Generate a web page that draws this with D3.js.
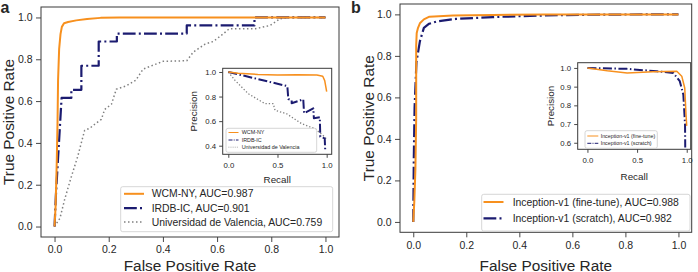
<!DOCTYPE html>
<html><head><meta charset="utf-8">
<script src="https://cdn.jsdelivr.net/npm/d3@7"></script>
<style>
body{margin:0;background:#fff}
svg{display:block}
text{font-family:"Liberation Sans",Arial,Helvetica,sans-serif;fill:#262626}
</style>
</head><body><svg id="c" width="698" height="272"></svg>
<script>
// ---------------- DATA ----------------
const mainTicks = [0.0, 0.2, 0.4, 0.6, 0.8, 1.0];
const insetXTicks = [0.0, 0.5, 1.0];
const insetYTicksA = [0.4, 0.6, 0.8, 1.0];
const insetYTicksB = [0.6, 0.7, 0.8, 0.9, 1.0];

// Panel a : ROC
const wcmFpr  = [0, 0.004, 0.008, 0.011, 0.013, 0.017, 0.022, 0.027, 0.035, 0.05, 0.08, 0.12, 0.17, 0.24, 1.0];
const wcmTpr  = [0, 0.10, 0.30, 0.50, 0.70, 0.85, 0.92, 0.955, 0.972, 0.978, 0.986, 0.993, 0.998, 1.0, 1.0];
const irdbFpr = [0, 0.005, 0.026, 0.062, 0.062, 0.099, 0.099, 0.163, 0.163, 0.230, 0.230, 0.488, 0.488, 0.738, 0.738, 1.0];
const irdbTpr = [0, 0.15, 0.615, 0.615, 0.654, 0.654, 0.769, 0.769, 0.885, 0.885, 0.923, 0.923, 0.962, 0.962, 1.0, 1.0];
const valFpr  = [0, 0.02, 0.037, 0.06, 0.086, 0.111, 0.13, 0.148, 0.173, 0.185, 0.21, 0.228, 0.265, 0.30, 0.327, 0.40, 0.488, 0.512, 0.556, 0.586, 0.623, 0.645, 0.741, 0.796, 0.833, 0.86, 1.0];
const valTpr  = [0, 0.04, 0.128, 0.23, 0.337, 0.46, 0.47, 0.489, 0.513, 0.56, 0.585, 0.657, 0.673, 0.70, 0.753, 0.79, 0.793, 0.834, 0.873, 0.885, 0.922, 0.946, 0.946, 0.962, 0.994, 1.0, 1.0];
// Panel a : precision-recall
const wcmRecall     = [0, 0.1, 0.3, 0.5, 0.7, 0.9, 0.96, 0.98, 1.0];
const wcmPrecision  = [1.0, 0.99, 0.98, 0.975, 0.978, 0.975, 0.965, 0.93, 0.84];
const irdbRecall    = [0, 0.60, 0.61, 0.644, 0.644, 0.762, 0.77, 0.864, 0.87, 0.93, 0.935, 0.98, 0.985, 1.0];
const irdbPrecision = [1.0, 0.885, 0.78, 0.77, 0.745, 0.778, 0.664, 0.704, 0.623, 0.631, 0.473, 0.46, 0.365, 0.36];
const valRecall     = [0, 0.068, 0.203, 0.373, 0.457, 0.475, 0.593, 0.746, 0.881, 0.983, 1.0];
const valPrecision  = [1.0, 0.932, 0.823, 0.742, 0.742, 0.688, 0.66, 0.579, 0.538, 0.47, 0.45];

// Panel b : ROC
const ftFpr = [0, 0.004, 0.008, 0.011, 0.011, 0.013, 0.018, 0.025, 0.04, 0.061, 0.15, 0.3, 0.5, 1.0];
const ftTpr = [0, 0.10, 0.25, 0.50, 0.85, 0.91, 0.935, 0.957, 0.976, 0.989, 0.994, 0.997, 1.0, 1.0];
const scFpr = [0, 0.002, 0.005, 0.012, 0.025, 0.04, 0.06, 0.09, 0.16, 0.3, 0.5, 0.7, 1.0];
const scTpr = [0, 0.30, 0.55, 0.77, 0.87, 0.935, 0.955, 0.966, 0.978, 0.987, 0.995, 0.999, 1.0];
// Panel b : precision-recall
const ftRecall     = [0, 0.2, 0.4, 0.66, 0.9, 0.95, 0.98, 0.993, 1.0];
const ftPrecision  = [1.0, 0.985, 0.973, 0.979, 0.982, 0.956, 0.893, 0.75, 0.69];
const scRecall     = [0, 0.4, 0.7, 0.865, 0.93, 0.966, 0.983, 0.985];
const scPrecision  = [1.0, 0.995, 0.982, 0.973, 0.929, 0.857, 0.696, 0.575];

const legendA = ["WCM-NY, AUC=0.987", "IRDB-IC, AUC=0.901", "Universidad de Valencia, AUC=0.759"];
const insetLegendA = ["WCM-NY", "IRDB-IC", "Universidad de Valencia"];
const legendB = ["Inception-v1 (fine-tune), AUC=0.988", "Inception-v1 (scratch), AUC=0.982"];
const insetLegendB = ["Inception-v1  (fine-tune)", "Inception-v1  (scratch)"];

// ---------------- STYLES ----------------
const ORANGE = "#F7901E", NAVY = "#1b1b70", GRAY = "#808080";
const styleSolid  = {color: ORANGE, width: 2,   dash: null};
const styleDashDot= {color: NAVY,   width: 2.2, dash: "12.8,3.2,2,3.2"};
const styleDot    = {color: GRAY,   width: 1.5, dash: "1.5,2.5"};
const styleSolidS  = {color: ORANGE, width: 1.5, dash: null};
const styleDashDotS= {color: NAVY,   width: 2,   dash: "9,2.5,1.5,2.5"};
const styleDotS    = {color: GRAY,   width: 1.3, dash: "1.3,2"};
const styleSolidL  = {color: ORANGE, width: 1,   dash: null};
const styleDashDotL= {color: NAVY,   width: 1,   dash: "4,1.2,1,1.2"};
const styleDotL    = {color: GRAY,   width: 0.8, dash: "0.8,1.3"};

const svg = d3.select("#c");
const fmt = d3.format(".1f");

function axesBox(box, xDom, yDom, xTicks, yTicks, o) {
  const g = svg.append("g");
  g.append("rect").attr("x", box.x0).attr("y", box.y0)
    .attr("width", box.x1 - box.x0).attr("height", box.y1 - box.y0)
    .attr("fill", "#fff");
  const x = d3.scaleLinear().domain(xDom).range([box.x0, box.x1]);
  const y = d3.scaleLinear().domain(yDom).range([box.y1, box.y0]);
  const gx = g.append("g").attr("transform", `translate(0,${box.y1})`)
    .call(d3.axisBottom(x).tickValues(xTicks).tickFormat(fmt).tickSize(o.tick).tickPadding(o.padX).tickSizeOuter(0));
  const gy = g.append("g").attr("transform", `translate(${box.x0},0)`)
    .call(d3.axisLeft(y).tickValues(yTicks).tickFormat(fmt).tickSize(o.tick).tickPadding(o.padY).tickSizeOuter(0));
  [gx, gy].forEach(a => {
    a.select(".domain").remove();
    a.selectAll("line").attr("stroke", "#333").attr("stroke-width", 0.9);
    a.selectAll("text").attr("font-size", o.font).attr("fill", "#2a2a2a")
      .attr("font-family", "Liberation Sans, Arial, sans-serif");
  });
  const plot = g.append("g");
  g.append("rect").attr("x", box.x0).attr("y", box.y0)
    .attr("width", box.x1 - box.x0).attr("height", box.y1 - box.y0)
    .attr("fill", "none").attr("stroke", "#3a3a3a").attr("stroke-width", 1);
  return {g, plot, x, y};
}

function drawLine(ax, xs, ys, st) {
  const line = d3.line().x(d => ax.x(d[0])).y(d => ax.y(d[1]));
  ax.plot.append("path").datum(d3.zip(xs, ys))
    .attr("d", line).attr("fill", "none")
    .attr("stroke", st.color).attr("stroke-width", st.width)
    .attr("stroke-linejoin", "round")
    .attr("stroke-dasharray", st.dash);
}

function legend(g, box, labels, styles, rows, hx0, hx1, tx, font) {
  g.append("rect").attr("x", box.x0).attr("y", box.y0)
    .attr("width", box.x1 - box.x0).attr("height", box.y1 - box.y0)
    .attr("rx", 2).attr("fill", "#fff").attr("fill-opacity", 0.85)
    .attr("stroke", "#cccccc").attr("stroke-width", 0.8);
  labels.forEach((lab, i) => {
    const st = styles[i];
    g.append("line").attr("x1", hx0).attr("x2", hx1).attr("y1", rows[i]).attr("y2", rows[i])
      .attr("stroke", st.color).attr("stroke-width", st.width).attr("stroke-dasharray", st.dash);
    g.append("text").attr("x", tx).attr("y", rows[i]).attr("dy", "0.35em")
      .attr("font-size", font).text(lab);
  });
}

function axisLabels(box, xl, yl, xBase, yBase, font, yCenter) {
  svg.append("text").attr("x", (box.x0 + box.x1) / 2).attr("y", xBase)
    .attr("text-anchor", "middle").attr("font-size", font).text(xl);
  const cy = yCenter !== undefined ? yCenter : (box.y0 + box.y1) / 2;
  svg.append("text").attr("transform", `translate(${yBase},${cy}) rotate(-90)`)
    .attr("text-anchor", "middle").attr("font-size", font).text(yl);
}

// ---------------- PANEL A ----------------
const boxA = {x0: 41, x1: 339, y0: 7, y1: 237};
const axA = axesBox(boxA, [-0.05, 1.05], [-0.05, 1.05], mainTicks, mainTicks,
  {tick: 5, padX: 3.5, padY: 3.5, font: 10.5});
drawLine(axA, valFpr, valTpr, styleDot);
drawLine(axA, irdbFpr, irdbTpr, styleDashDot);
drawLine(axA, wcmFpr, wcmTpr, styleSolid);
axisLabels(boxA, "False Positive Rate", "True Positive Rate", 270.5, 13.5, 15.4);

const iboxA = {x0: 222.7, x1: 331.7, y0: 68.3, y1: 154.3};
const inA = axesBox(iboxA, [-0.057, 1.051], [0.33, 1.03], insetXTicks, insetYTicksA,
  {tick: 3.5, padX: 5, padY: 3, font: 7.8});
drawLine(inA, valRecall, valPrecision, styleDotS);
drawLine(inA, irdbRecall, irdbPrecision, styleDashDotS);
drawLine(inA, wcmRecall, wcmPrecision, styleSolidS);
legend(inA.g, {x0: 226, x1: 316.7, y0: 128.3, y1: 152.3}, insetLegendA,
  [styleSolidL, styleDashDotL, styleDotL], [132.5, 140, 147.2], 228.5, 238.5, 241.7, 5.4);
axisLabels(iboxA, "Recall", "Precision", 183, 197.3, 9.8);

legend(axA.g, {x0: 120.7, x1: 332.7, y0: 186.7, y1: 231.7}, legendA,
  [styleSolid, styleDashDot, styleDot], [193.8, 208.2, 222], 124, 144, 151.7, 10.4);

svg.append("text").attr("x", 0.5).attr("y", 13).attr("font-size", 16)
  .attr("font-weight", "bold").text("a");

// ---------------- PANEL B ----------------
const boxB = {x0: 400, x1: 691.7, y0: 4, y1: 232.3};
const axB = axesBox(boxB, [-0.05, 1.05], [-0.05, 1.05], mainTicks, mainTicks,
  {tick: 5, padX: 4, padY: 3.5, font: 10.5});
drawLine(axB, scFpr, scTpr, styleDashDot);
drawLine(axB, ftFpr, ftTpr, styleSolid);
axisLabels(boxB, "False Positive Rate", "True Positive Rate", 270.5, 373.5, 15.4);

const iboxB = {x0: 577.7, x1: 690.7, y0: 62.7, y1: 149.3};
const inB = axesBox(iboxB, [-0.098, 1.04], [0.565, 1.028], insetXTicks, insetYTicksB,
  {tick: 3.5, padX: 4.5, padY: 3, font: 7.8});
drawLine(inB, scRecall, scPrecision, styleDashDotS);
drawLine(inB, ftRecall, ftPrecision, styleSolidS);
legend(inB.g, {x0: 585, x1: 657.3, y0: 130.7, y1: 148.3}, insetLegendB,
  [styleSolidL, styleDashDotL], [136, 143.3], 587.3, 598.3, 600.7, 5.3);
axisLabels(iboxB, "Recall", "Precision", 180, 554, 9.8);

legend(axB.g, {x0: 481.7, x1: 690, y0: 194.3, y1: 231}, legendB,
  [styleSolid, styleDashDot], [202, 218.3], 483.5, 503.5, 512.7, 10.4);

svg.append("text").attr("x", 351).attr("y", 13).attr("font-size", 16)
  .attr("font-weight", "bold").text("b");
</script></body></html>
